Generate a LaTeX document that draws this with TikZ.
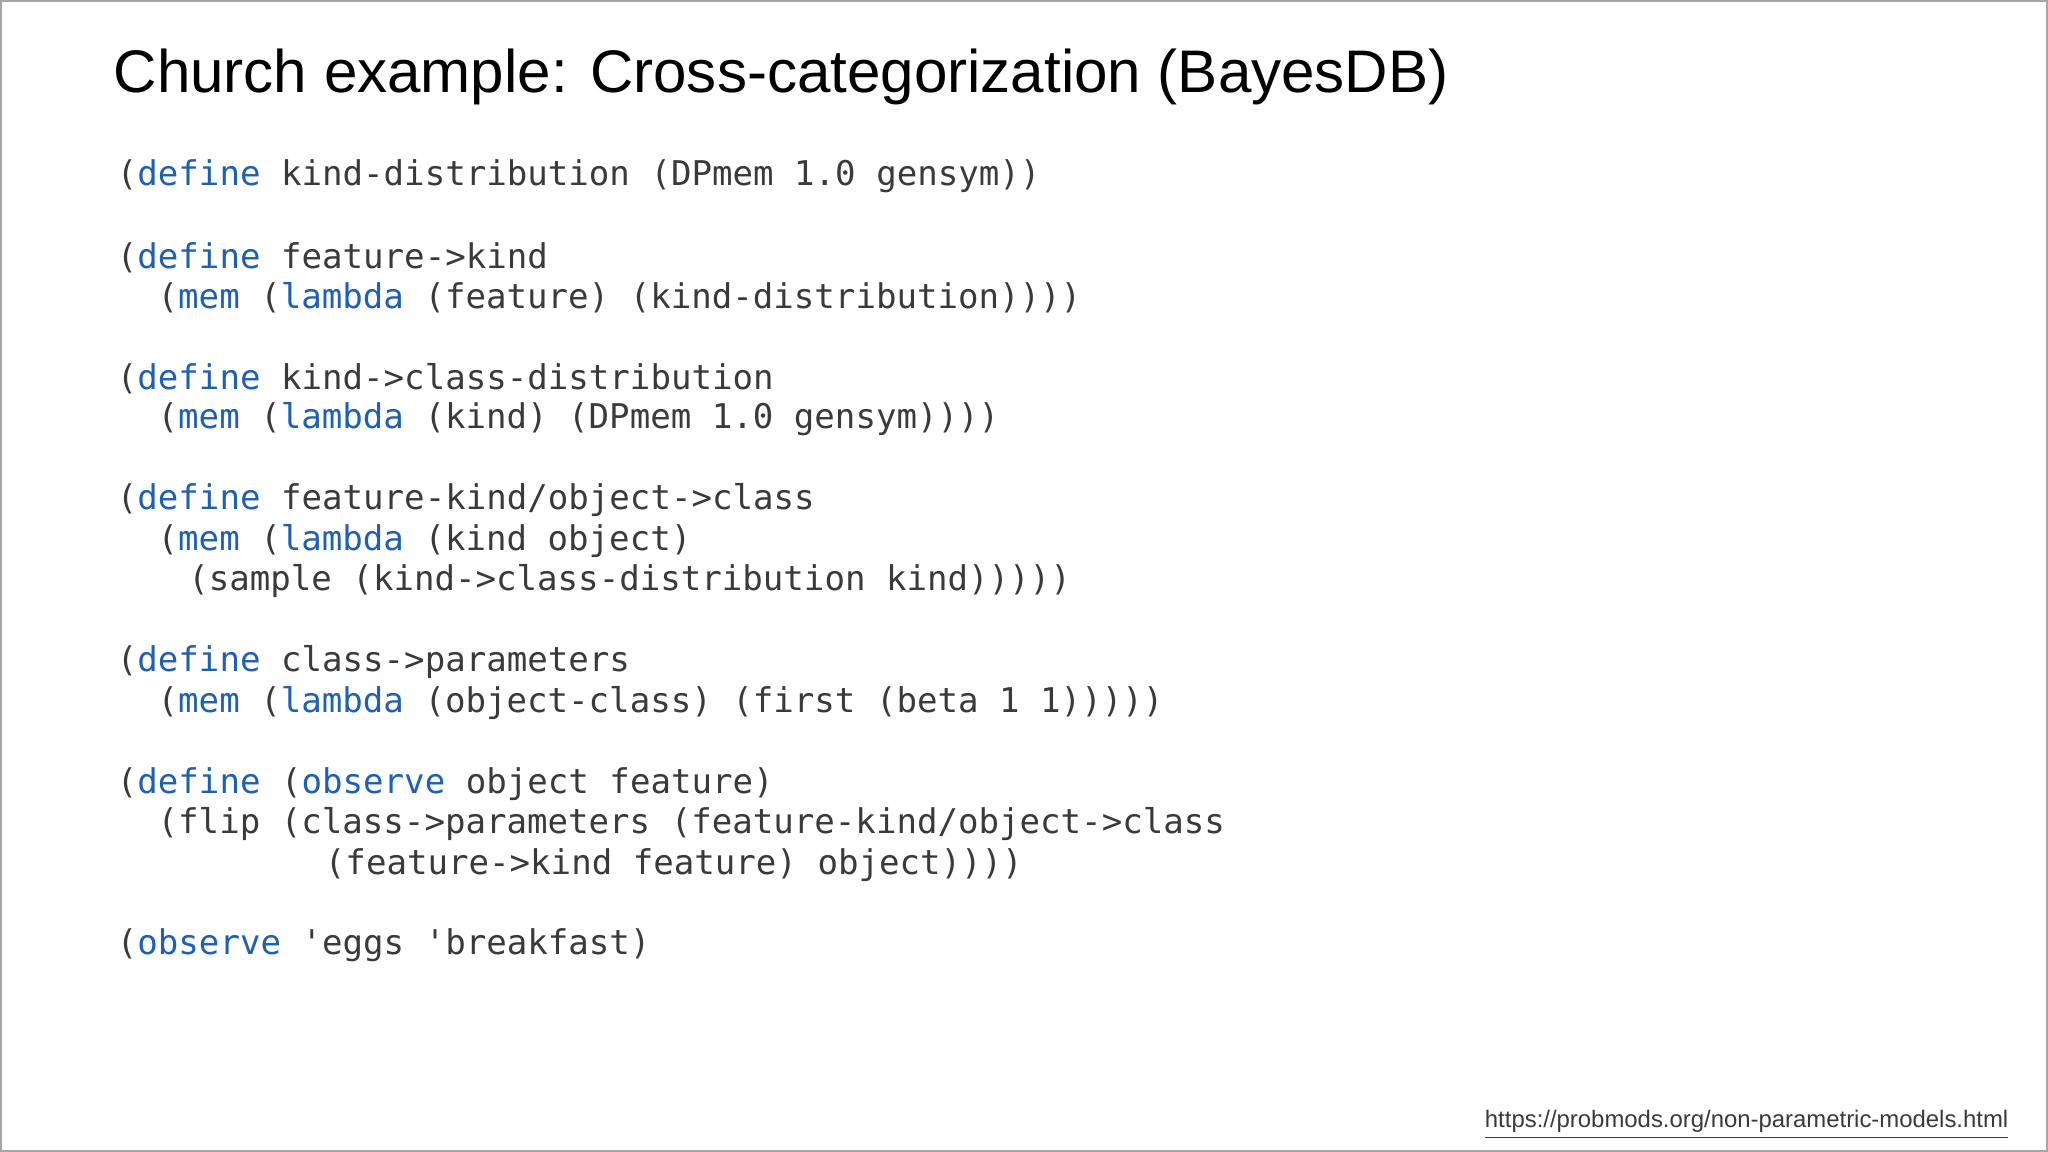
\documentclass[tikz,border=0pt]{standalone}
\usepackage{fontspec}
\setmainfont{Liberation Sans}
\setmonofont{DejaVu Sans Mono}
\definecolor{kwblue}{HTML}{1F5FB4}
\definecolor{codegray}{HTML}{3A3A3A}
\newcommand{\kw}[1]{\textcolor{kwblue}{#1}}
\tikzset{code line/.style={anchor=west,inner sep=0pt,text=codegray,font=\ttfamily\fontsize{9.7}{11}\selectfont},
  slide title/.style={anchor=west,inner sep=0pt,font=\fontsize{17.1}{20}\selectfont},
}
\begin{document}
\begin{tikzpicture}[x=1cm,y=1cm]
  \useasboundingbox (0,0) rectangle (20.48,-11.52);
  \draw[gray!70,line width=0.6pt] (0.01,-0.01) rectangle (20.47,-11.51);
  \node[slide title] (title) at (1.13,-0.77) {Church example: Cross-categorization (BayesDB)};
  % code lines: (indent in characters, line index, text)
  \foreach \ind/\row/\txt in {
    0/0/{(\kw{define} kind-distribution (DPmem 1.0 gensym))},
    0/2/{(\kw{define} feature->kind},
    2/3/{(\kw{mem} (\kw{lambda} (feature) (kind-distribution))))},
    0/5/{(\kw{define} kind->class-distribution},
    2/6/{(\kw{mem} (\kw{lambda} (kind) (DPmem 1.0 gensym))))},
    0/8/{(\kw{define} feature-kind/object->class},
    2/9/{(\kw{mem} (\kw{lambda} (kind object)},
    3.5/10/{(sample (kind->class-distribution kind)))))},
    0/12/{(\kw{define} class->parameters},
    2/13/{(\kw{mem} (\kw{lambda} (object-class) (first (beta 1 1)))))},
    0/15/{(\kw{define} (\kw{observe} object feature)},
    2/16/{(flip (class->parameters (feature-kind/object->class},
    10.2/17/{(feature->kind feature) object))))},
    0/19/{(\kw{observe} 'eggs 'breakfast)}}
    \node[code line] (line\row) at ({1.162+0.204*\ind},{-(135+31*\row)*0.01306}) {\txt};
  \node[anchor=east,inner sep=0pt,text=codegray,font=\fontsize{6.8}{8}\selectfont] (url) at (20.09,-11.25)
    {\underline{https://probmods.org/non-parametric-models.html}};
\end{tikzpicture}
\end{document}
